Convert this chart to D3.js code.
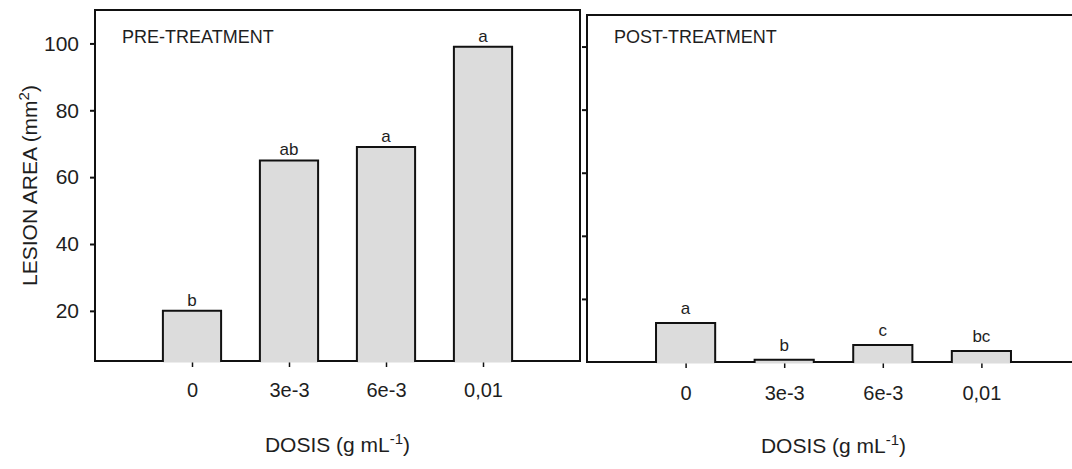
<!DOCTYPE html>
<html>
<head>
<meta charset="utf-8">
<title>Lesion area</title>
<style>
  body { margin: 0; background: #fff; }
  svg text { font-family: "Liberation Sans", Arial, sans-serif; fill: #1e1e1e; }
</style>
<script src="https://d3js.org/d3.v7.min.js"></script>
</head>
<body>
<svg id="chart" width="1072" height="469"></svg>
<script>
// data
const doses = ["0", "3e-3", "6e-3", "0,01"];
const preValues = [20, 65, 69, 99];
const postValues = [12.4, 0.7, 5.4, 3.5];
const preLetters = ["b", "ab", "a", "a"];
const postLetters = ["a", "b", "c", "bc"];
const yTicks = [20, 40, 60, 80, 100];

const svg = d3.select("#chart");

const panels = [
  { title: "PRE-TREATMENT", values: preValues, letters: preLetters,
    left: 95, right: 580, top: 10, bottom: 361, ymin: 5, ymax: 110,
    showY: true, letterGap: 5, tickDy: 29 },
  { title: "POST-TREATMENT", values: postValues, letters: postLetters,
    left: 587, right: 1080, top: 15, bottom: 362, ymin: 0, ymax: 110,
    showY: false, letterGap: 9, tickDy: 31 }
];

panels.forEach(function(p) {
  const x = d3.scaleLinear().domain([0, doses.length + 1]).range([p.left, p.right]);
  const y = d3.scaleLinear().domain([p.ymin, p.ymax]).range([p.bottom, p.top]);
  const bw = x(0.6) - x(0);
  const g = svg.append("g");

  // frame
  g.append("rect")
    .attr("x", p.left).attr("y", p.top)
    .attr("width", p.right - p.left).attr("height", p.bottom - p.top)
    .attr("fill", "none").attr("stroke", "#111").attr("stroke-width", 2);

  // y axis ticks
  const ya = g.append("g").attr("transform", "translate(" + p.left + ",0)")
    .call(d3.axisLeft(y).tickValues(yTicks).tickSize(5).tickPadding(11)
      .tickFormat(p.showY ? d3.format("d") : ""));
  ya.select(".domain").remove();
  ya.selectAll("line").attr("stroke", "#111").attr("stroke-width", 2);
  ya.selectAll("text").attr("font-size", 21).attr("fill", "#1e1e1e")
    .attr("font-family", "'Liberation Sans', Arial, sans-serif");

  // x axis ticks
  const xa = g.append("g").attr("transform", "translate(0," + p.bottom + ")")
    .call(d3.axisBottom(x).tickValues(d3.range(1, doses.length + 1)).tickSize(6)
      .tickFormat(function(d) { return doses[d - 1]; }));
  xa.select(".domain").remove();
  xa.selectAll("line").attr("stroke", "#111").attr("stroke-width", 1.5);
  xa.selectAll("text").attr("font-size", 20).attr("fill", "#1e1e1e")
    .attr("y", p.tickDy).attr("dy", "0.35em")
    .attr("font-family", "'Liberation Sans', Arial, sans-serif");

  // bars: fill covers the baseline, outline on three sides
  const bars = g.selectAll("g.bar").data(p.values).enter().append("g");
  bars.append("rect")
    .attr("x", function(d, i) { return x(i + 1) - bw / 2; })
    .attr("y", function(d) { return y(d); })
    .attr("width", bw)
    .attr("height", function(d) { return p.bottom - y(d) + 1.5; })
    .attr("fill", "#dcdcdc");
  bars.append("path")
    .attr("d", function(d, i) {
      const x0 = x(i + 1) - bw / 2, x1 = x(i + 1) + bw / 2;
      return "M" + x0 + "," + (p.bottom + 1) + "V" + y(d) + "H" + x1 + "V" + (p.bottom + 1);
    })
    .attr("fill", "none").attr("stroke", "#111").attr("stroke-width", 2);

  // significance letters
  g.selectAll("text.letter").data(p.letters).enter().append("text")
    .attr("class", "letter")
    .attr("x", function(d, i) { return x(i + 1); })
    .attr("y", function(d, i) { return y(p.values[i]) - p.letterGap; })
    .attr("text-anchor", "middle").attr("font-size", 17)
    .text(function(d) { return d; });

  // panel title
  g.append("text")
    .attr("x", p.left + 27).attr("y", 43)
    .attr("font-size", 18)
    .text(p.title);

  // x title
  const xt = g.append("text")
    .attr("x", (p.left + p.right) / 2).attr("y", p.bottom + 91)
    .attr("text-anchor", "middle").attr("font-size", 21);
  xt.append("tspan").text("DOSIS (g mL");
  xt.append("tspan").attr("dy", -8).attr("font-size", 15).text("-1");
  xt.append("tspan").attr("dy", 8).text(")");

  if (p.showY) {
    const yt = g.append("text")
      .attr("transform", "translate(37," + ((p.top + p.bottom) / 2) + ") rotate(-90)")
      .attr("text-anchor", "middle").attr("font-size", 21);
    yt.append("tspan").text("LESION AREA (mm");
    yt.append("tspan").attr("dy", -8).attr("font-size", 15).text("2");
    yt.append("tspan").attr("dy", 8).text(")");
  }
});
</script>
</body>
</html>
